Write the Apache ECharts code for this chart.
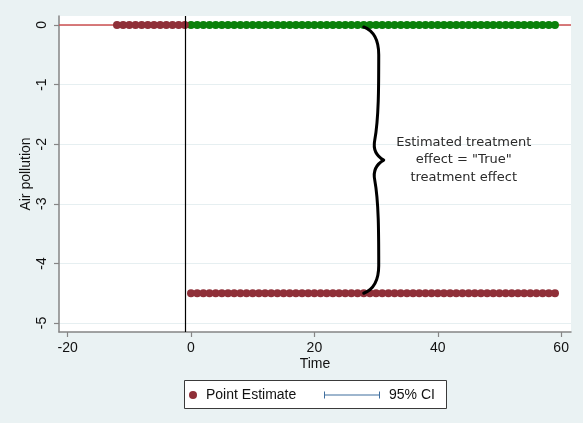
<!DOCTYPE html>
<html>
<head>
<meta charset="utf-8">
<script src="https://cdn.jsdelivr.net/npm/echarts@6/dist/echarts.min.js"></script>
<style>
  html, body { margin: 0; padding: 0; background: #eaf2f3; }
  #chart { width: 583px; height: 423px; }
</style>
</head>
<body>
<div id="chart"></div>
<script>
// Event-study style estimates of air pollution around a treatment at time 0
const preTime = [-12, -11, -10, -9, -8, -7, -6, -5, -4, -3, -2, -1];
const preEstimate = [0, 0, 0, 0, 0, 0, 0, 0, 0, 0, 0, 0];
const postTime = [0, 1, 2, 3, 4, 5, 6, 7, 8, 9, 10, 11, 12, 13, 14, 15, 16, 17, 18, 19,
  20, 21, 22, 23, 24, 25, 26, 27, 28, 29, 30, 31, 32, 33, 34, 35, 36, 37, 38, 39,
  40, 41, 42, 43, 44, 45, 46, 47, 48, 49, 50, 51, 52, 53, 54, 55, 56, 57, 58, 59];
const postEstimate = [-4.5, -4.5, -4.5, -4.5, -4.5, -4.5, -4.5, -4.5, -4.5, -4.5,
  -4.5, -4.5, -4.5, -4.5, -4.5, -4.5, -4.5, -4.5, -4.5, -4.5,
  -4.5, -4.5, -4.5, -4.5, -4.5, -4.5, -4.5, -4.5, -4.5, -4.5,
  -4.5, -4.5, -4.5, -4.5, -4.5, -4.5, -4.5, -4.5, -4.5, -4.5,
  -4.5, -4.5, -4.5, -4.5, -4.5, -4.5, -4.5, -4.5, -4.5, -4.5,
  -4.5, -4.5, -4.5, -4.5, -4.5, -4.5, -4.5, -4.5, -4.5, -4.5];
const counterfactual = [0, 0, 0, 0, 0, 0, 0, 0, 0, 0, 0, 0, 0, 0, 0, 0, 0, 0, 0, 0,
  0, 0, 0, 0, 0, 0, 0, 0, 0, 0, 0, 0, 0, 0, 0, 0, 0, 0, 0, 0,
  0, 0, 0, 0, 0, 0, 0, 0, 0, 0, 0, 0, 0, 0, 0, 0, 0, 0, 0, 0];
const xTicks = [-20, 0, 20, 40, 60];
const yTicks = [-5, -4, -3, -2, -1, 0];
const treatmentLine = -1;
const zeroLine = 0;
// brace: time where it sits, and the two levels it spans
const braceTime = [28];
const braceTop = [0];
const braceBottom = [-4.5];
const braceText = 'Estimated treatment\neffect = "True"\ntreatment effect';

const MAROON = '#8f2f38';
const GREEN = '#0b800b';
const CI_BLUE = '#3f6e9e';
const ZERO_RED = '#cc4f4f';
const AXIS_GREY = '#858585';
const FONT = '"Liberation Sans", Arial, sans-serif';

const pointData = preTime.map((t, i) => [t, preEstimate[i]])
  .concat(postTime.map((t, i) => [t, postEstimate[i]]));
const cfData = postTime.map((t, i) => [t, counterfactual[i]]);
const braceData = braceTime.map((t, i) => [t, braceTop[i], braceBottom[i]]);

function renderBrace(params, api) {
  const top = api.coord([api.value(0), api.value(1)]);
  const bot = api.coord([api.value(0), api.value(2)]);
  const x0 = top[0];
  const yT = top[1] + 2;
  const yB = bot[1];
  const hh = (yB - yT) / 2;
  const yM = yT + hh;
  const s = hh / 134;
  // upper half, then mirrored lower half
  const p = [
    'M', x0, yT,
    'C', x0 + 10, yT + 4 * s, x0 + 15, yT + 14 * s, x0 + 15, yT + 28 * s,
    'C', x0 + 15, yT + 60 * s, x0 + 15, yT + 92 * s, x0 + 11, yT + 114 * s,
    'C', x0 + 9, yT + 124 * s, x0 + 13, yT + 130 * s, x0 + 20, yM,
    'C', x0 + 13, yB - 130 * s, x0 + 9, yB - 124 * s, x0 + 11, yB - 114 * s,
    'C', x0 + 15, yB - 92 * s, x0 + 15, yB - 60 * s, x0 + 15, yB - 28 * s,
    'C', x0 + 15, yB - 14 * s, x0 + 10, yB - 4 * s, x0, yB
  ].join(' ');
  return {
    type: 'group',
    children: [
      {
        type: 'path',
        shape: { pathData: p },
        style: { stroke: '#000', fill: null, lineWidth: 3, lineCap: 'round', lineJoin: 'round' }
      },
      {
        type: 'text',
        x: x0 + 100,
        y: yM,
        style: {
          text: braceText,
          fill: '#2a2a2a',
          font: '13px "DejaVu Sans", Verdana, sans-serif',
          align: 'center',
          verticalAlign: 'middle',
          lineHeight: 17.5
        }
      }
    ]
  };
}

const chart = echarts.init(document.getElementById('chart'), null, { renderer: 'canvas' });
chart.setOption({
  backgroundColor: '#eaf2f3',
  animation: false,
  grid: {
    left: 59, right: 12, top: 16, bottom: 91,
    show: true, backgroundColor: '#ffffff', borderWidth: 0
  },
  xAxis: {
    type: 'value',
    min: -21.4, max: 61.6,
    name: 'Time',
    nameLocation: 'middle',
    nameGap: 25,
    nameMoveOverlap: false,
    nameTextStyle: { fontFamily: FONT, fontSize: 14, color: '#111' },
    axisLine: { show: true, onZero: false, lineStyle: { color: AXIS_GREY, width: 1.5 } },
    axisTick: { show: true, length: 5, customValues: xTicks, lineStyle: { color: AXIS_GREY, width: 1.2 } },
    axisLabel: { customValues: xTicks, margin: 9, fontFamily: FONT, fontSize: 14, color: '#111' },
    splitLine: { show: false }
  },
  yAxis: {
    type: 'value',
    min: -5.15, max: 0.15,
    name: 'Air pollution',
    nameLocation: 'middle',
    nameGap: 26,
    nameMoveOverlap: false,
    nameTextStyle: { fontFamily: FONT, fontSize: 14, color: '#111' },
    axisLine: { show: true, onZero: false, lineStyle: { color: AXIS_GREY, width: 1.5 } },
    axisTick: { show: true, length: 5, customValues: yTicks, lineStyle: { color: AXIS_GREY, width: 1.2 } },
    axisLabel: { customValues: yTicks, rotate: 90, margin: 10, fontFamily: FONT, fontSize: 14, color: '#111' },
    splitLine: { show: true, lineStyle: { color: '#e6eff1', width: 1 } }
  },
  legend: [
    {
      data: ['Point Estimate'],
      left: 189, top: 388,
      itemWidth: 8, itemHeight: 8,
      padding: 0,
      textStyle: { fontFamily: FONT, fontSize: 14, color: '#111', padding: [0, 0, 0, 4] }
    },
    {
      data: [{ name: '95% CI', icon: 'path://M0,0h1v7h-1z M0,3h56v1h-56z M55,0h1v7h-1z' }],
      left: 324, top: 388,
      itemWidth: 56, itemHeight: 7,
      padding: 0,
      textStyle: { fontFamily: FONT, fontSize: 14, color: '#111', padding: [0, 0, 0, 4] }
    }
  ],
  graphic: [
    {
      type: 'rect',
      left: 184, top: 380, z: -1,
      shape: { width: 262, height: 28 },
      style: { fill: '#ffffff', stroke: '#3a3a3a', lineWidth: 1 }
    }
  ],
  series: [
    {
      // reference line at zero, kept under the dots
      name: 'zero',
      type: 'scatter',
      data: [],
      z: 1,
      markLine: {
        silent: true, symbol: ['none', 'none'], z: 1,
        label: { show: false },
        emphasis: { disabled: true },
        lineStyle: { color: ZERO_RED, width: 1.6, type: 'solid', opacity: 1 },
        data: [{ yAxis: zeroLine }]
      }
    },
    {
      name: 'Counterfactual',
      type: 'scatter',
      data: cfData,
      symbol: 'circle',
      symbolSize: 8,
      itemStyle: { color: GREEN, opacity: 1 },
      z: 3
    },
    {
      name: 'Point Estimate',
      type: 'scatter',
      data: pointData,
      symbol: 'circle',
      symbolSize: 8,
      itemStyle: { color: MAROON, opacity: 1 },
      z: 3,
      markLine: {
        silent: true, symbol: ['none', 'none'], z: 6,
        label: { show: false },
        lineStyle: { color: '#000', width: 1.2, type: 'solid' },
        data: [{ xAxis: treatmentLine }]
      }
    },
    {
      name: '95% CI',
      type: 'line',
      data: [],
      itemStyle: { color: CI_BLUE },
      lineStyle: { color: CI_BLUE }
    },
    {
      name: 'brace',
      type: 'custom',
      data: braceData,
      renderItem: renderBrace,
      silent: true,
      z: 7
    }
  ]
});
</script>
</body>
</html>
